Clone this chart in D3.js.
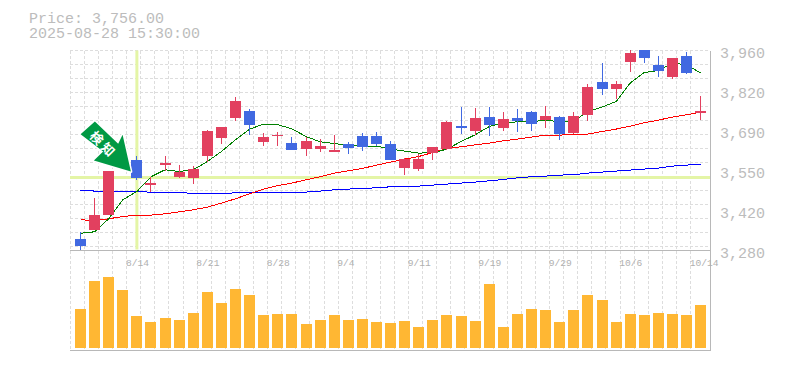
<!DOCTYPE html>
<html>
<head>
<meta charset="utf-8">
<script src="https://cdn.jsdelivr.net/npm/d3@7"></script>
<style>
  body { margin: 0; background: #fff; }
  text { font-family: "Liberation Mono", monospace; }
</style>
</head>
<body>
<div id="chart-container"></div>
<script>
// Daily candle chart with moving averages and volume

const dates = ["8/7","8/8","8/12","8/13","8/14","8/15","8/18","8/19","8/20","8/21","8/22","8/25","8/26","8/27","8/28",
    "8/29","9/1","9/2","9/3","9/4","9/5","9/8","9/9","9/10","9/11","9/12","9/16","9/17","9/18","9/19",
    "9/22","9/24","9/25","9/26","9/29","9/30","10/1","10/2","10/3","10/6","10/7","10/8","10/9","10/10","10/14"];

const openPrices = [3320,3350,3401,3558,3588,3504,3571,3531,3527,3602,3663,3731,3755,3650,3670,
    3646,3626,3626,3616,3643,3670,3670,3643,3561,3558,3612,3626,3704,3687,3735,
    3697,3731,3752,3724,3735,3680,3741,3854,3830,3922,3962,3911,3871,3942,3748];
const highPrices = [3343,3458,3549,3582,3602,3529,3602,3571,3568,3690,3701,3803,3762,3680,3684,
    3667,3667,3660,3673,3650,3680,3684,3653,3595,3609,3633,3721,3769,3765,3769,
    3752,3762,3755,3772,3738,3752,3847,3918,3857,3962,3962,3942,3935,3956,3806];
const lowPrices = [3282,3350,3401,3558,3520,3480,3552,3527,3507,3582,3643,3721,3674,3636,3636,
    3622,3602,3616,3616,3609,3619,3636,3588,3537,3551,3588,3622,3677,3673,3670,
    3687,3684,3687,3697,3656,3677,3721,3809,3796,3888,3918,3871,3864,3881,3724];
const closePrices = [3296,3401,3549,3582,3528,3511,3578,3548,3558,3687,3701,3789,3707,3667,3673,
    3622,3653,3636,3622,3629,3633,3643,3588,3592,3592,3633,3718,3697,3731,3707,
    3728,3721,3711,3738,3677,3738,3837,3830,3847,3952,3935,3891,3935,3884,3756];

const ma5 = [3338.5,3343.6,3387.8,3452.4,3480.6,3530.6,3554.4,3548.6,3554.4,3582.6,3616.6,3656.4,3692.8,3709.8,3707.4,
    3693.8,3667.6,3649.6,3643.8,3637,3635,3635,3624.8,3618,3611.2,3612.2,3624.8,3650.6,3673.4,3701.6,
    3713.2,3717.6,3718.6,3722,3718.6,3720,3752.6,3767.6,3786.6,3849.2,3885.2,3892,3917.2,3911.4,3883.2];
const ma25 = [3384.4,3382,3387.8,3395.6,3400.4,3400.4,3404.8,3411.6,3418.4,3427.6,3441.2,3455.8,3472.8,3488.8,3501,
    3509.2,3520.4,3530.6,3543.2,3551,3558.8,3570.4,3580.6,3590.8,3599.6,3613.2,3626.8,3632.6,3639.4,3645.2,
    3653,3658.8,3665.6,3672.4,3672.4,3674.4,3675.8,3684.6,3692.8,3703,3714.2,3723.4,3733.6,3741.4,3750.6];
const ma75 = [3485.4,3482,3482,3482,3479.6,3478.6,3478.6,3478.6,3472.8,3472.8,3472.8,3476.2,3477.2,3477.2,3477.2,
    3478.6,3478.6,3482,3486.4,3488.8,3490.8,3493.2,3496.6,3499,3499,3502.4,3505.8,3509.2,3512.6,3517,
    3521.4,3527.2,3530.6,3533,3536.4,3537.4,3543.2,3546.6,3550,3553.4,3556.8,3560.2,3567,3570.4,3573.8];

// volume in thousands
const volumes = [39,67,71,58,32,26,30,28,35,56,45,59,53,33,34,34,24,28,33,28,29,26,25,
    27,21,28,33,32,27,64,21,34,39,38,26,38,53,48,26,34,33,35,34,33,43];

const priceTicks = [3960,3824,3688,3552,3416,3280];
const priceLabels = ["3,960","3,820","3,690","3,550","3,420","3,280"];
const dateLabels = ["8/14","8/21","8/28","9/4","9/11","9/19","9/29","10/6","10/14"];
const gridPrices = d3.range(0,15).map(k => 3960 - 47.6*k);

const titleLines = ["Price: 3,756.00","2025-08-28 15:30:00"];
const markedDate = "8/14";
const markLabel = "検知";

const width = 785, height = 370;
const plot = {left: 70, right: 710, top: 50.5, mid: 250.5, bottom: 350.5};
const colors = {up: "#e2405f", down: "#4169e1", vol: "#ffb733", grid: "#dddddd", frame: "#b8b8b8",
    text: "#bcbcbc", cross: "#e4f5a6", mark: "#009944"};

const x = d3.scalePoint().domain(dates).range([80.5, 700.7]);
const y = d3.scaleLinear().domain([3280,3960]).range([plot.mid, plot.top]);
const yVol = d3.scaleLinear().domain([0,100]).range([348, 248]);

let svg = d3.select('#chart-container')
    .append('svg')
    .attr("width", width)
    .attr("height", height)
    .style("display", "block");

svg.append("defs").append("clipPath").attr("id", "plotClip")
    .append("rect")
    .attr("x", plot.left).attr("y", plot.top - 0.5)
    .attr("width", plot.right - plot.left).attr("height", plot.mid - plot.top + 1);

// Vertical grid runs through both panels, sits 10px left of each candle
svg.append("g")
    .attr("transform", `translate(-10.2,${plot.top})`)
    .call(d3.axisBottom(x).tickValues(dates).tickSize(plot.bottom - plot.top).tickFormat("").offset(0))
    .call(g => g.select(".domain").remove())
    .call(g => g.selectAll("line")
        .attr("stroke", colors.grid).attr("stroke-dasharray", "3,2").attr("shape-rendering", "crispEdges"));

svg.append("g")
    .attr("transform", `translate(${plot.left},0)`)
    .call(d3.axisLeft(y).tickValues(gridPrices).tickSize(plot.left - plot.right).tickFormat("").offset(0))
    .call(g => g.select(".domain").remove())
    .call(g => g.selectAll("line")
        .attr("stroke", colors.grid).attr("stroke-dasharray", "3,2").attr("shape-rendering", "crispEdges"));

// Crosshair
svg.append("line")
    .attr("x1", plot.left).attr("x2", plot.right)
    .attr("y1", y(closePrices[dates.indexOf(markedDate)])).attr("y2", y(closePrices[dates.indexOf(markedDate)]))
    .attr("stroke", colors.cross).attr("stroke-width", 3);
svg.append("line")
    .attr("x1", x(markedDate)).attr("x2", x(markedDate))
    .attr("y1", plot.top).attr("y2", plot.mid - 1)
    .attr("stroke", colors.cross).attr("stroke-width", 3);

// Frame
svg.append("path")
    .attr("d", `M${plot.left},${plot.mid}H${plot.right}M${plot.left},${plot.bottom}H${plot.right}M${plot.right + 0.5},${plot.top}V${plot.bottom}`)
    .attr("fill", "none").attr("stroke", colors.frame).attr("shape-rendering", "crispEdges");

// Moving averages go under the candles
let line = d3.line().x((d,i) => x(dates[i])).y(d => y(d));
[[ma75,"#0000ff"],[ma25,"#ff0000"],[ma5,"#008000"]].forEach(s => {
    svg.append("path")
        .attr("d", line(s[0]))
        .attr("fill", "none")
        .attr("stroke", s[1])
        .attr("shape-rendering", "crispEdges");
});

let candleColor = i => closePrices[i] >= openPrices[i] ? colors.up : colors.down;

let candles = svg.append("g").attr("clip-path", "url(#plotClip)");

candles.selectAll("line")
    .data(dates)
    .join("line")
    .attr("x1", d => Math.round(x(d) - 5.5) + 5.5)
    .attr("x2", d => Math.round(x(d) - 5.5) + 5.5)
    .attr("y1", (d,i) => y(highPrices[i]))
    .attr("y2", (d,i) => y(lowPrices[i]))
    .attr("stroke", (d,i) => candleColor(i))
    .attr("shape-rendering", "crispEdges");

candles.selectAll("rect")
    .data(dates)
    .join("rect")
    .attr("x", d => Math.round(x(d) - 5.5))
    .attr("width", 11)
    .attr("y", (d,i) => Math.round(y(Math.max(openPrices[i], closePrices[i]))))
    .attr("height", (d,i) => Math.max(1, Math.round(Math.abs(y(openPrices[i]) - y(closePrices[i])))))
    .attr("fill", (d,i) => candleColor(i));

// Volume bars
svg.append("g")
    .selectAll("rect")
    .data(volumes)
    .join("rect")
    .attr("x", (d,i) => Math.round(x(dates[i]) - 5.5))
    .attr("width", 11)
    .attr("y", d => yVol(d))
    .attr("height", d => yVol(0) - yVol(d))
    .attr("fill", colors.vol);

// Arrow marker, tip sits just off the marked candle
let mark = svg.append("g")
    .attr("transform", `translate(${x(markedDate) - 6},${y(closePrices[dates.indexOf(markedDate)]) - 6})`);

mark.append("path")
    .attr("d", "M0,0L-37,-11L-27.7,-20L-50.3,-37.4L-36,-50L-12.7,-27.7L-8.3,-36.7Z")
    .attr("fill", colors.mark)
    .attr("stroke", "#fff")
    .attr("stroke-width", 3)
    .attr("stroke-linejoin", "round")
    .style("paint-order", "stroke");

mark.append("text")
    .attr("transform", "translate(-27.5,-26.7) rotate(45)")
    .attr("text-anchor", "middle")
    .attr("dy", "0.36em")
    .attr("fill", "#fff")
    .attr("font-size", 13)
    .attr("font-weight", "bold")
    .attr("letter-spacing", 3)
    .style("font-family", '"Noto Sans CJK JP"')
    .text(markLabel);

// Axis labels
svg.append("g")
    .attr("transform", `translate(${plot.right},0)`)
    .call(d3.axisRight(y).tickValues(priceTicks).tickSize(0).tickPadding(10)
        .tickFormat((d,i) => priceLabels[i]).offset(0))
    .call(g => g.select(".domain").remove())
    .call(g => g.selectAll("text")
        .attr("fill", colors.text).attr("font-size", 15).attr("dy", 7).style("font-family", '"Liberation Mono"'));

svg.append("g")
    .attr("transform", `translate(0,${plot.mid})`)
    .call(d3.axisBottom(x).tickValues(dates.filter(d => dateLabels.includes(d))).tickSize(0).tickPadding(0).offset(0))
    .call(g => g.select(".domain").remove())
    .call(g => g.selectAll("text")
        .attr("fill", "#b0b0b0").attr("font-size", 9.6).attr("text-anchor", "start").attr("x", -11).attr("y", 15.5).attr("dy", 0)
        .style("font-family", '"Liberation Mono"'));

svg.append("g")
    .selectAll("text")
    .data(titleLines)
    .join("text")
    .attr("x", 29)
    .attr("y", (d,i) => 23 + i*15)
    .attr("fill", colors.text)
    .attr("font-size", 15)
    .text(d => d);
</script>
</body>
</html>
